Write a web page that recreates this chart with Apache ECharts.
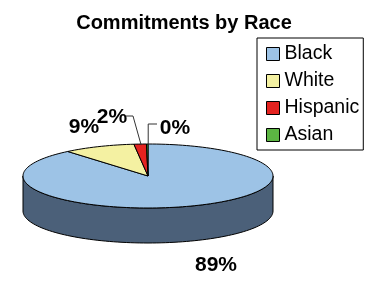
<!DOCTYPE html>
<html>
<head>
<meta charset="utf-8">
<script src="https://cdn.jsdelivr.net/npm/echarts@6/dist/echarts.min.js"></script>
<style>
  html, body { margin: 0; padding: 0; background: #fff; }
  #main { width: 368px; height: 286px; }
</style>
</head>
<body>
<div id="main"></div>
<script>
// data
var categories = ['Black', 'White', 'Hispanic', 'Asian'];
var values = [88.9, 9.3, 1.6, 0.2];
var colors = ['#9DC3E6', '#F4F1A2', '#E42320', '#5CB543'];
var sideColors = ['#4B6079', '#8C8A55', '#8A1512', '#336B24'];

// pie geometry (pixels)
var cx = 148, cy = 176, rx = 125, ry = 32, depth = 35;
// label centre offsets from the pie centre
var labelOffsets = [[68, 89], [-64, -49], [-36, -59], [27, -48]];

var total = values.reduce(function (a, b) { return a + b; }, 0);

function pt(deg, dy) {
  var r = deg * Math.PI / 180;
  return [cx + rx * Math.sin(r), cy - ry * Math.cos(r) + (dy || 0)];
}

function makeRender(idx) {
  return function (params, api) {
    var before = 0;
    for (var i = 0; i < idx; i++) before += values[i];
    var a0 = before / total * 360;
    var a1 = (before + api.value(0)) / total * 360;
    var children = [];

    // front wall, only the part facing the viewer (90..270 deg)
    var s = Math.max(a0, 90), e = Math.min(a1, 270);
    if (e > s) {
      var side = [];
      for (var d = s; d <= e; d += 2) side.push(pt(d));
      side.push(pt(e));
      for (var d2 = e; d2 >= s; d2 -= 2) side.push(pt(d2, depth));
      side.push(pt(s, depth));
      children.push({
        type: 'polygon',
        shape: { points: side },
        style: { fill: sideColors[idx], stroke: '#000', lineWidth: 1 }
      });
    }

    // top face
    var top = [[cx, cy]];
    for (var t = a0; t < a1; t += 2) top.push(pt(t));
    top.push(pt(a1));
    children.push({
      type: 'polygon',
      shape: { points: top },
      style: { fill: colors[idx], stroke: '#000', lineWidth: 1 }
    });

    // label
    var pct = Math.round(api.value(0) / total * 100) + '%';
    var lx = cx + labelOffsets[idx][0], ly = cy + labelOffsets[idx][1];
    var mid = pt((a0 + a1) / 2);
    if (idx === 2) {
      children.push({
        type: 'polyline',
        shape: { points: [[lx + 14, ly - 1], [lx + 21, ly - 1], [mid[0] + 1, mid[1] + 1]] },
        style: { stroke: '#333', lineWidth: 1, fill: null }
      });
    }
    if (idx === 3) {
      children.push({
        type: 'polyline',
        shape: { points: [[lx - 18, ly - 4], [mid[0] + 1, ly - 4], [mid[0] + 1, mid[1] + 1]] },
        style: { stroke: '#333', lineWidth: 1, fill: null }
      });
    }
    children.push({
      type: 'text',
      style: {
        x: lx, y: ly, text: pct,
        align: 'center', verticalAlign: 'middle',
        font: 'bold 21px "Liberation Sans", Arial, sans-serif',
        fill: '#000'
      }
    });
    return { type: 'group', children: children };
  };
}

var series = categories.map(function (name, i) {
  return {
    name: name,
    type: 'custom',
    coordinateSystem: 'none',
    silent: true,
    itemStyle: { color: colors[i], borderColor: '#000', borderWidth: 1 },
    renderItem: makeRender(i),
    data: [[values[i]]]
  };
});

var chart = echarts.init(document.getElementById('main'), null, { renderer: 'canvas' });
chart.setOption({
  animation: false,
  title: {
    text: 'Commitments by Race',
    left: 'center',
    top: 8,
    textStyle: { fontFamily: '"Liberation Sans", Arial, sans-serif', fontSize: 20, fontWeight: 'bold', color: '#000' }
  },
  legend: {
    orient: 'vertical',
    left: 257,
    top: 38,
    width: 108,
    padding: [6, 4, 5, 9],
    itemGap: 7,
    itemWidth: 13,
    itemHeight: 13,
    icon: 'rect',
    borderColor: '#000',
    borderWidth: 1,
    itemStyle: { borderColor: '#000', borderWidth: 1 },
    textStyle: { fontFamily: '"Liberation Sans", Arial, sans-serif', fontSize: 19.5, color: '#000', lineHeight: 20 },
    data: categories
  },
  series: series
});
</script>
</body>
</html>
